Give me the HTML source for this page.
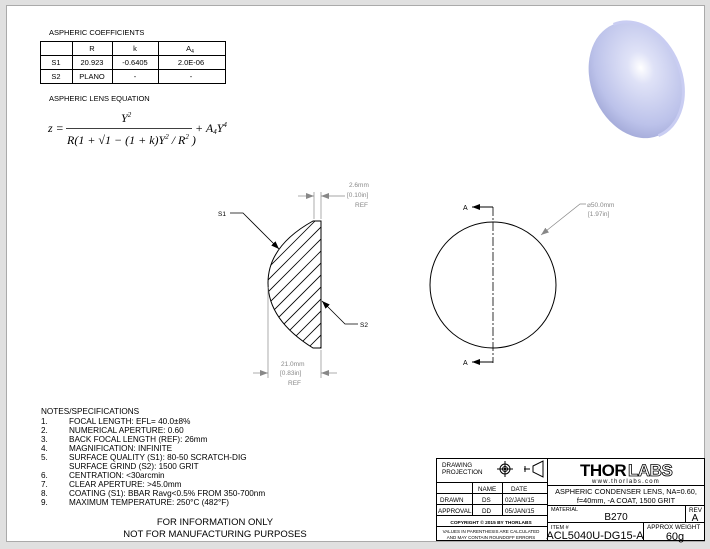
<!DOCTYPE html>
<html><head><meta charset="utf-8"><style>
html,body{margin:0;padding:0;background:#dcdcdc;}
svg{display:block;font-family:"Liberation Sans",sans-serif;}
</style></head><body>
<svg width="710" height="549" viewBox="0 0 710 549" xmlns="http://www.w3.org/2000/svg">
<defs>
<radialGradient id="lg" cx="0.6" cy="0.42" r="0.7">
<stop offset="0" stop-color="#ffffff"/><stop offset="0.2" stop-color="#dfe2f7"/><stop offset="0.7" stop-color="#bcc2ea"/><stop offset="1" stop-color="#9aa1d2"/></radialGradient>
<clipPath id="lc"><path d="M313,221 L321,221 L321,348 L313,348 Q268,320 268,283 Q268,246 313,221 Z"/></clipPath>
<marker id="ar" markerWidth="8" markerHeight="6" refX="8" refY="3" orient="auto" markerUnits="userSpaceOnUse"><path d="M0,0 L8,3 L0,6 Z" fill="#000"/></marker>
<marker id="ag" markerWidth="8" markerHeight="6" refX="8" refY="3" orient="auto" markerUnits="userSpaceOnUse"><path d="M0,0 L8,3 L0,6 Z" fill="#888"/></marker>
</defs>
<rect x="0" y="0" width="710" height="549" fill="#e0e0e0"/>
<rect x="6.5" y="5.5" width="698" height="536" fill="#fff" stroke="#aaa"/>

<g font-size="7.5" fill="#000">
<text x="49" y="35">ASPHERIC COEFFICIENTS</text>
<g stroke="#000" stroke-width="1" fill="none">
<rect x="40.5" y="41.5" width="185" height="42"/>
<line x1="40" y1="55.5" x2="225" y2="55.5"/><line x1="40" y1="69.5" x2="225" y2="69.5"/>
<line x1="72.5" y1="41" x2="72.5" y2="83"/><line x1="112.5" y1="41" x2="112.5" y2="83"/><line x1="158.5" y1="41" x2="158.5" y2="83"/>
</g>
<g text-anchor="middle">
<text x="92" y="51">R</text><text x="135" y="51">k</text><text x="190" y="51">A<tspan font-size="5" dy="2">4</tspan></text>
<text x="56" y="65">S1</text><text x="92" y="65">20.923</text><text x="135" y="65">-0.6405</text><text x="191" y="65">2.0E-06</text>
<text x="56" y="79">S2</text><text x="92" y="79">PLANO</text><text x="135" y="79">-</text><text x="191" y="79">-</text>
</g>
<text x="49" y="101">ASPHERIC LENS EQUATION</text>
</g>
<g font-family="Liberation Serif,serif" font-style="italic" font-size="12" fill="#000">
<text x="48" y="132">z =</text>
<line x1="66" y1="128.5" x2="192" y2="128.5" stroke="#000" stroke-width="0.8"/>
<text x="121" y="122">Y<tspan font-size="7" dy="-5">2</tspan></text>
<text x="67" y="144">R(1 + √1 − (1 + k)Y<tspan font-size="7" dy="-5">2</tspan><tspan dy="5"> / R</tspan><tspan font-size="7" dy="-5">2</tspan><tspan dy="5"> )</tspan></text>
<text x="195" y="132">+ A<tspan font-size="7" dy="2">4</tspan><tspan dy="-2">Y</tspan><tspan font-size="7" dy="-5">4</tspan></text>
</g>

<!-- lens 3D -->
<g transform="rotate(-22 636 80)">
<ellipse cx="636" cy="80" rx="45" ry="60" fill="url(#lg)"/>
<path d="M636,20 A45,60 0 0 1 636,140" fill="none" stroke="#c9cdf2" stroke-width="3"/>
</g>

<g clip-path="url(#lc)" stroke="#000" stroke-width="0.8">
<line x1="250" y1="250" x2="330" y2="170"/><line x1="250" y1="262" x2="330" y2="182"/><line x1="250" y1="274" x2="330" y2="194"/><line x1="250" y1="286" x2="330" y2="206"/><line x1="250" y1="298" x2="330" y2="218"/><line x1="250" y1="310" x2="330" y2="230"/><line x1="250" y1="322" x2="330" y2="242"/><line x1="250" y1="334" x2="330" y2="254"/><line x1="250" y1="346" x2="330" y2="266"/><line x1="250" y1="358" x2="330" y2="278"/><line x1="250" y1="370" x2="330" y2="290"/><line x1="250" y1="382" x2="330" y2="302"/><line x1="250" y1="394" x2="330" y2="314"/><line x1="250" y1="406" x2="330" y2="326"/><line x1="250" y1="418" x2="330" y2="338"/>
</g>
<path d="M313,221 L321,221 L321,348 L313,348 Q268,320 268,283 Q268,246 313,221 Z" fill="none" stroke="#000" stroke-width="1"/>
<g stroke="#000" stroke-width="0.8" fill="none">
<path d="M230,213 L243,213 L279,249" marker-end="url(#ar)"/>
<path d="M358,324 L345,324 L322,301" marker-end="url(#ar)"/>
</g>
<g font-size="6.5" fill="#000"><text x="218" y="216">S1</text><text x="360" y="327">S2</text></g>
<g stroke="#888" stroke-width="0.7" fill="none">
<line x1="314" y1="192" x2="314" y2="219"/><line x1="321" y1="192" x2="321" y2="219"/>
<line x1="298" y1="196" x2="314" y2="196" marker-end="url(#ag)"/>
<line x1="345" y1="196" x2="321" y2="196" marker-end="url(#ag)"/>
<line x1="268" y1="287" x2="268" y2="378"/><line x1="321" y1="350" x2="321" y2="378"/>
<line x1="253" y1="373" x2="268" y2="373" marker-end="url(#ag)"/>
<line x1="337" y1="373" x2="321" y2="373" marker-end="url(#ag)"/>
<path d="M586,204 L580,204 L541,235" marker-end="url(#ag)"/>
</g>
<g font-size="6.5" fill="#888">
<text x="349" y="187">2.6mm</text><text x="347" y="197">[0.10in]</text><text x="355" y="207">REF</text>
<text x="281" y="366">21.0mm</text><text x="280" y="375">[0.83in]</text><text x="288" y="385">REF</text>
<text x="587" y="207">⌀50.0mm</text><text x="588" y="216">[1.97in]</text>
</g>
<circle cx="493" cy="285" r="63" fill="none" stroke="#000" stroke-width="1"/>
<line x1="493" y1="207" x2="493" y2="363" stroke="#000" stroke-width="0.8" stroke-dasharray="9,2,2,2"/>
<g stroke="#000" stroke-width="1" fill="none">
<line x1="493" y1="207" x2="472" y2="207" marker-end="url(#ar)"/>
<line x1="493" y1="362" x2="472" y2="362" marker-end="url(#ar)"/>
</g>
<g font-size="7" fill="#000"><text x="463" y="210">A</text><text x="463" y="365">A</text></g>

<g font-size="8.2" fill="#000">
<text x="41" y="414">NOTES/SPECIFICATIONS</text>
<text x="41" y="424">1.</text><text x="69" y="424">FOCAL LENGTH: EFL= 40.0±8%</text>
<text x="41" y="433">2.</text><text x="69" y="433">NUMERICAL APERTURE: 0.60</text>
<text x="41" y="442">3.</text><text x="69" y="442">BACK FOCAL LENGTH (REF): 26mm</text>
<text x="41" y="451">4.</text><text x="69" y="451">MAGNIFICATION: INFINITE</text>
<text x="41" y="460">5.</text><text x="69" y="460">SURFACE QUALITY (S1): 80-50 SCRATCH-DIG</text>
<text x="69" y="469">SURFACE GRIND (S2): 1500 GRIT</text>
<text x="41" y="478">6.</text><text x="69" y="478">CENTRATION: &lt;30arcmin</text>
<text x="41" y="487">7.</text><text x="69" y="487">CLEAR APERTURE: &gt;45.0mm</text>
<text x="41" y="496">8.</text><text x="69" y="496">COATING (S1): BBAR Ravg&lt;0.5% FROM 350-700nm</text>
<text x="41" y="505">9.</text><text x="69" y="505">MAXIMUM TEMPERATURE: 250°C (482°F)</text>
</g>
<g font-size="9.5" fill="#000" text-anchor="middle">
<text x="215" y="525">FOR INFORMATION ONLY</text>
<text x="215" y="537">NOT FOR MANUFACTURING PURPOSES</text>
</g>

<g stroke="#000" stroke-width="1" fill="none">
<rect x="436.5" y="458.5" width="268" height="82"/>
<line x1="547.5" y1="458" x2="547.5" y2="541"/>
<line x1="436" y1="482.5" x2="547" y2="482.5"/>
<line x1="436" y1="493.5" x2="547" y2="493.5"/>
<line x1="436" y1="504.5" x2="547" y2="504.5"/>
<line x1="436" y1="515.5" x2="547" y2="515.5"/>
<line x1="436" y1="526.5" x2="547" y2="526.5"/>
<line x1="472.5" y1="482" x2="472.5" y2="515"/>
<line x1="502.5" y1="482" x2="502.5" y2="515"/>
<line x1="547" y1="485.5" x2="705" y2="485.5"/>
<line x1="547" y1="505.5" x2="705" y2="505.5"/>
<line x1="547" y1="522.5" x2="705" y2="522.5"/>
<line x1="685.5" y1="505" x2="685.5" y2="522"/>
<line x1="643.5" y1="522" x2="643.5" y2="541"/>
<circle cx="505" cy="469" r="5"/><circle cx="505" cy="469" r="2.5"/>
<line x1="497" y1="469" x2="513" y2="469"/><line x1="505" y1="461" x2="505" y2="477"/>
<path d="M524,469 L530,469 M533,466 L543,461 L543,477 L533,472 Z M525,466 L525,472"/>
</g>
<circle cx="505" cy="469" r="1.2" fill="#000"/>
<g font-size="6.3" fill="#000">
<text x="442" y="467">DRAWING</text><text x="442" y="474">PROJECTION</text>
<text x="478" y="491">NAME</text><text x="511" y="491">DATE</text>
<text x="440" y="502">DRAWN</text><text x="482" y="502">DS</text><text x="505" y="502">02/JAN/15</text>
<text x="438" y="513">APPROVAL</text><text x="482" y="513">DD</text><text x="505" y="513">05/JAN/15</text>
<text x="491" y="524" text-anchor="middle" font-size="4.8" font-weight="bold">COPYRIGHT © 2015 BY THORLABS</text>
<text x="491" y="533" text-anchor="middle" font-size="4.5">VALUES IN PARENTHESIS ARE CALCULATED</text>
<text x="491" y="539" text-anchor="middle" font-size="4.5">AND MAY CONTAIN ROUNDOFF ERRORS</text>
<text x="551" y="511" font-size="5.5">MATERIAL</text>
<text x="689" y="512">REV</text>
<text x="551" y="529" font-size="5.5">ITEM #</text>
<text x="647" y="529">APPROX WEIGHT</text>
</g>
<text x="580" y="476" font-size="17" font-weight="bold" fill="#000" letter-spacing="-0.5">THOR</text>
<text x="628" y="476" font-size="17" font-weight="bold" fill="#fff" stroke="#000" stroke-width="0.8" letter-spacing="-0.5">LABS</text>
<text x="626" y="483" font-size="6" text-anchor="middle" letter-spacing="1.2" fill="#000">www.thorlabs.com</text>
<g font-size="7.3" fill="#000" text-anchor="middle">
<text x="626" y="494">ASPHERIC CONDENSER LENS, NA=0.60,</text>
<text x="626" y="503">f=40mm, -A COAT, 1500 GRIT</text>
</g>
<text x="616" y="520" font-size="10" text-anchor="middle" fill="#000">B270</text>
<text x="695" y="521" font-size="10" text-anchor="middle" fill="#000">A</text>
<text x="595" y="539" font-size="11" text-anchor="middle" fill="#000">ACL5040U-DG15-A</text>
<text x="675" y="540" font-size="11" text-anchor="middle" fill="#000">60g</text>
</svg>
</body></html>
